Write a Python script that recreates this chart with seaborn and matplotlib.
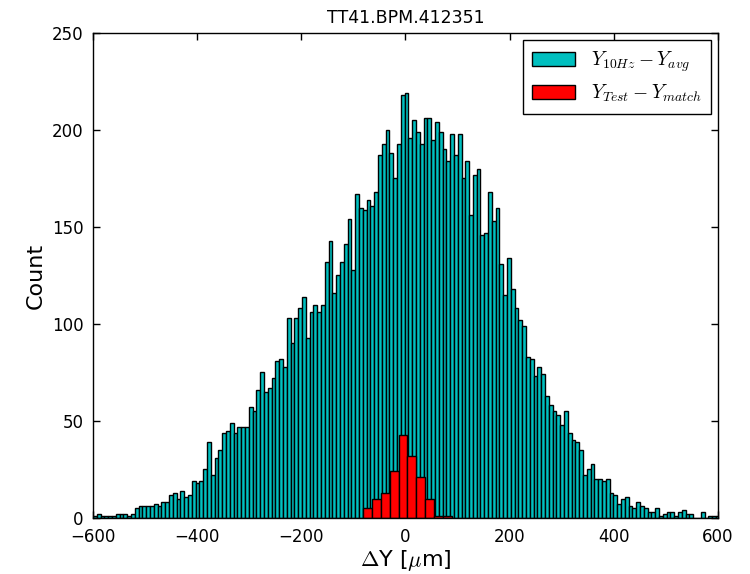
import numpy as np
import pandas as pd
import matplotlib
matplotlib.use("Agg")
import matplotlib.pyplot as plt
import seaborn as sns

# ---------------- data ----------------
title = "TT41.BPM.412351"

teal_counts = [
    1, 2, 1, 1, 1, 1, 2, 2, 2, 1,
    2, 5, 6, 6, 6, 6, 7, 6, 8, 8,
    12, 13, 10, 14, 11, 12, 19, 18, 19, 25,
    39, 22, 31, 35, 44, 45, 49, 44, 47, 47,
    47, 57, 55, 66, 75, 65, 67, 72, 81, 82,
    78, 103, 90, 103, 108, 114, 93, 106, 110, 106,
    110, 132, 143, 116, 125, 132, 141, 154, 128, 167,
    160, 159, 164, 161, 168, 187, 193, 200, 188, 175,
    193, 218, 219, 196, 205, 199, 193, 206, 206, 195,
    204, 199, 190, 184, 198, 187, 198, 175, 184, 156,
    177, 180, 146, 147, 168, 153, 160, 131, 115, 134,
    118, 108, 102, 99, 83, 82, 73, 78, 74, 63,
    58, 55, 53, 48, 55, 44, 40, 39, 35, 22,
    25, 28, 20, 20, 19, 20, 13, 12, 7, 10,
    11, 6, 5, 8, 6, 5, 3, 3, 5, 1,
    2, 3, 3, 1, 3, 4, 2, 2, 0, 0,
    3, 0, 1, 1, 1,
]
teal_range = [-600, 604]

red_counts = [5, 10, 13, 24, 43, 32, 21, 10, 1, 1]
red_range = [-81, 89]

x_ticks = [-600, -400, -200, 0, 200, 400, 600]
y_ticks = [0, 50, 100, 150, 200, 250]
legend_labels = [r"$Y_{10Hz} - Y_{avg}$", r"$Y_{Test} - Y_{match}$"]
x_label = r"$\Delta$Y [$\mu$m]"
y_label = "Count"

# ---------------- style ----------------
sns.set_style("ticks")
plt.rcParams["font.family"] = ["DejaVu Sans"]
plt.rcParams["mathtext.fontset"] = "cm"
plt.rcParams["text.color"] = "black"
plt.rcParams["axes.labelcolor"] = "black"

fig = plt.figure(figsize=(7.5, 5.74), dpi=100)
ax = fig.add_axes([0.124, 0.0976, 0.833, 0.8449])

def centers(rng, n):
    e = np.linspace(rng[0], rng[1], n + 1)
    return (e[:-1] + e[1:]) / 2

df_t = pd.DataFrame({"dy": centers(teal_range, len(teal_counts)), "n": teal_counts})
df_r = pd.DataFrame({"dy": centers(red_range, len(red_counts)), "n": red_counts})

sns.histplot(data=df_t, x="dy", weights="n", bins=len(teal_counts),
             binrange=tuple(teal_range), ax=ax,
             color=(0.0, 0.75, 0.75), edgecolor="black", linewidth=1.0,
             alpha=1.0, label=legend_labels[0])
sns.histplot(data=df_r, x="dy", weights="n", bins=len(red_counts),
             binrange=tuple(red_range), ax=ax,
             color=(1.0, 0.0, 0.0), edgecolor="black", linewidth=1.0,
             alpha=1.0, label=legend_labels[1])

ax.set_xlim(-600, 600)
ax.set_ylim(0, 250)
ax.set_xticks(x_ticks)
ax.set_yticks(y_ticks)
ax.tick_params(direction="in", top=True, right=True, length=5, width=1,
               labelsize=12, colors="black")
ax.tick_params(axis="x", pad=7)
ax.tick_params(axis="y", pad=7)
for s in ax.spines.values():
    s.set_visible(True)
    s.set_color("black")
    s.set_linewidth(1.0)

ax.set_xlabel(x_label, fontsize=16, labelpad=2, color="black")
ax.set_ylabel(y_label, fontsize=16, labelpad=4, color="black")
ax.set_title(title, fontsize=12.5, pad=7, color="black")

leg = ax.legend(loc="upper right", fontsize=14, fancybox=False,
                edgecolor="black", framealpha=1.0, borderpad=0.5,
                labelspacing=0.45, handlelength=2.2, borderaxespad=0.35)
leg.get_frame().set_linewidth(1.0)
for t in leg.get_texts():
    t.set_color("black")

fig.savefig("out.png", dpi=100)
